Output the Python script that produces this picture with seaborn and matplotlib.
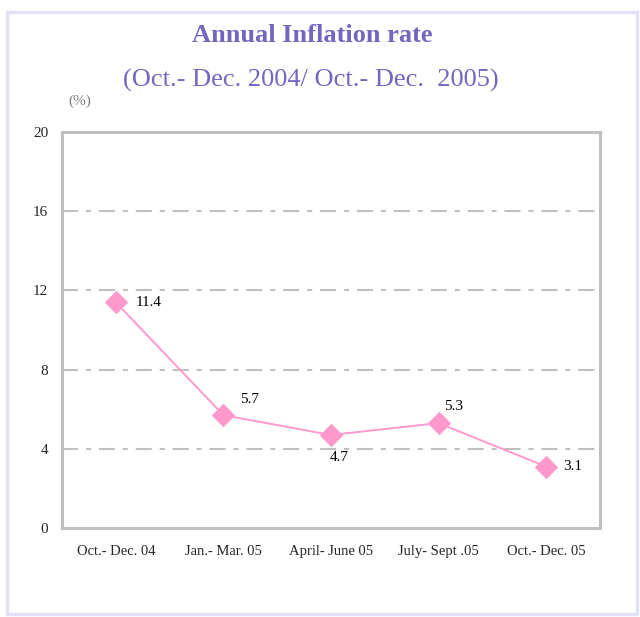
import matplotlib
matplotlib.use("Agg")
import matplotlib.pyplot as plt
import matplotlib.patches as mpatches
import pandas as pd
import seaborn as sns

periods = ["Oct.- Dec. 04", "Jan.- Mar. 05", "April- June 05", "July- Sept .05", "Oct.- Dec. 05"]
inflation = [11.4, 5.7, 4.7, 5.3, 3.1]
label_text = ["11.4", "5.7", "4.7", "5.3", "3.1"]

df = pd.DataFrame({"pos": range(len(periods)), "rate": inflation})

sns.set_style("white")
plt.rcParams["font.family"] = ["Liberation Serif", "DejaVu Serif"]

fig = plt.figure(figsize=(6.4, 6.17), dpi=100)
ax = fig.add_axes([0.0969, 0.1442, 0.8406, 0.6418])

sns.lineplot(data=df, x="pos", y="rate", ax=ax, color="#ff99cc", linewidth=1.4,
             marker="D", markersize=11, markeredgecolor="#ff99cc")

# data labels (offsets in points)
offsets = [(14, 0), (12, 11), (-1, -16), (4, 12), (12, 0)]
for i, v in enumerate(inflation):
    dx, dy = offsets[i]
    ax.annotate(label_text[i], (i, v), xytext=(dx, dy), textcoords="offset points",
                ha="left", va="center", fontsize=11, color="black")

ax.set_xlim(-0.5, len(periods) - 0.5)
ax.set_ylim(0, 20)
ax.set_yticks([0, 4, 8, 12, 16, 20])
ax.set_yticklabels(["0", "4", "8", "12", "16", "20"], fontsize=11)
ax.set_xticks([i - 0.5 for i in range(len(periods) + 1)])
ax.set_xticklabels([])
ax.set_xticks(range(len(periods)), minor=True)
ax.set_xticklabels(periods, minor=True, fontsize=10.5)
ax.tick_params(axis="x", which="major", length=5, color="#b0b0b0", width=1.5, direction="out")
ax.tick_params(axis="x", which="minor", length=0, pad=12)
ax.tick_params(axis="y", length=5, color="#b0b0b0", width=1.5, direction="out", pad=5)
ax.set_xlabel("")
ax.set_ylabel("")

ax.yaxis.grid(True, color="#c0c0c0", linestyle=(0, (7.7, 3.8, 2.4, 3.8)), linewidth=1.5)
ax.set_axisbelow(True)
for s in ax.spines.values():
    s.set_visible(True)
    s.set_color("#c0c0c0")
    s.set_linewidth(2.2)

fig.text(312 / 640, 1 - 36 / 617, "Annual Inflation rate", ha="center", va="center",
         fontsize=19, fontweight="bold", color="#7565c0")
fig.text(311 / 640, 1 - 80 / 617, "(Oct.- Dec. 2004/ Oct.- Dec.  2005)", ha="center", va="center",
         fontsize=19, color="#7565c0")
fig.text(80 / 640, 1 - 101 / 617, "(%)", ha="center", va="center", fontsize=11, color="#808080")

fig.patches.append(mpatches.Rectangle((7 / 640, 3 / 617), 630 / 640, 602 / 617,
                                      transform=fig.transFigure, fill=False,
                                      edgecolor="#e2e2f7", linewidth=2.5))

fig.savefig("out.png", dpi=100)
